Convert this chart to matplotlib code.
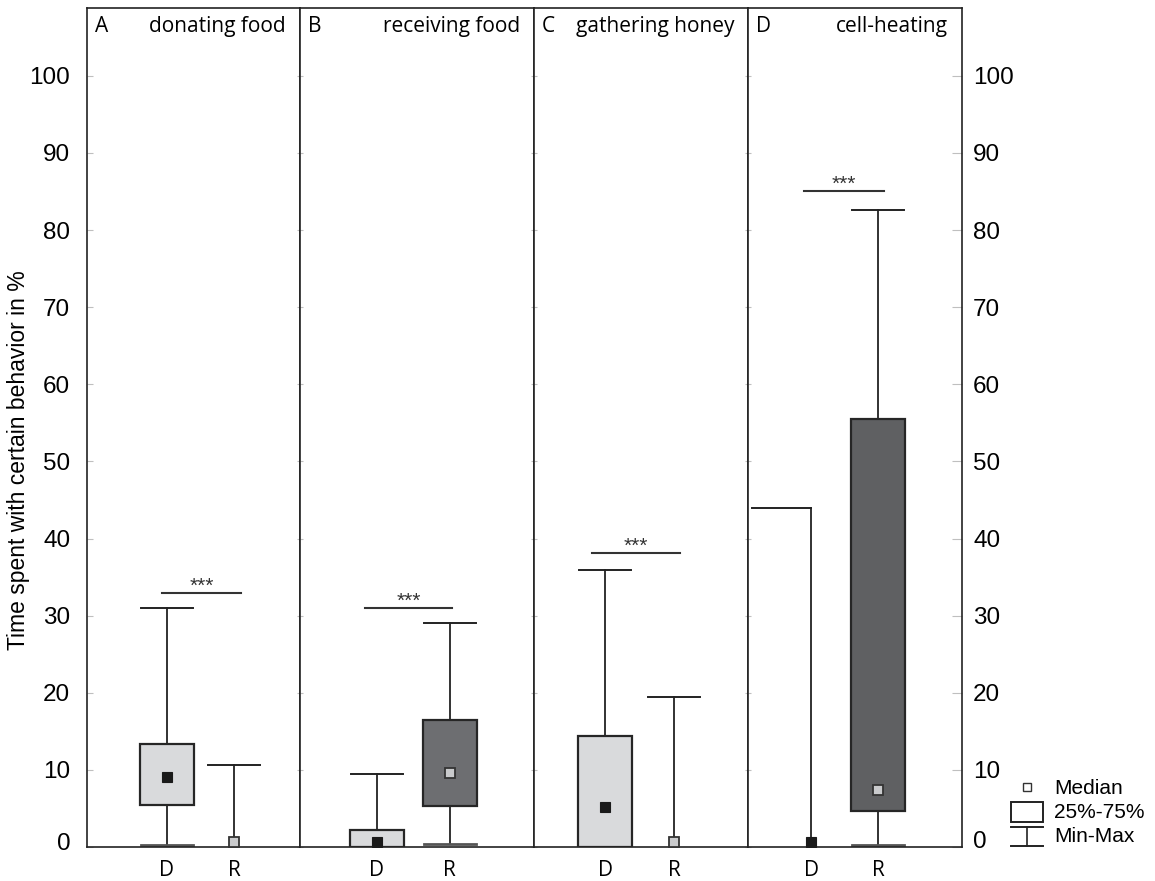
import numpy as np
import matplotlib
matplotlib.use('Agg')
import matplotlib.pyplot as plt
from matplotlib.patches import Rectangle
from matplotlib.transforms import ScaledTranslation

# data (percent of time)
panel_letters = ['A', 'B', 'C', 'D']
panel_titles = ['donating food', 'receiving food', 'gathering honey', 'cell-heating']
groups = ['D', 'R']

d_min = [0.3, 0.0, 0.0, 0.0]
d_q1 = [5.4, 0.0, 0.0, 0.0]
d_med = [9.1, 0.6, 5.2, 0.6]
d_q3 = [13.3, 2.2, 14.4, 0.0]
d_max = [31.0, 9.5, 35.9, 44.0]

r_min = [0.0, 0.35, 0.0, 0.2]
r_q1 = [0.0, 5.3, 0.0, 4.7]
r_med = [0.6, 9.6, 0.65, 7.4]
r_q3 = [0.0, 16.5, 0.0, 55.5]
r_max = [10.6, 29.0, 19.4, 82.6]

sig_level = [32.9, 31.0, 38.1, 85.1]
sig_label = ['***', '***', '***', '***']

yticks = [0, 10, 20, 30, 40, 50, 60, 70, 80, 90, 100]

# layout (panel widths in pixels, positions in the same units)
W, H = 1155, 881
panel_w = [213, 234, 214, 214]
pos_d = [79.5, 76.5, 71, 63]
pos_r = [147, 149.5, 140, 130]
sig_span = [(75, 154), (65, 152), (58, 146), (56, 136)]
box_w = 54
cap_w = 52

box_fill_d = '#d9dadc'
box_fill_r = ['#6d6e71', '#6d6e71', '#6d6e71', '#5f6062']
edge = '#262626'

fig = plt.figure(figsize=(W / 100, H / 100), dpi=100)
gs = fig.add_gridspec(1, 4, left=87 / W, right=962 / W, bottom=34 / H, top=873 / H,
                      width_ratios=panel_w, wspace=0)

num_font = 'Liberation Sans'
txt_font = 'Open Sans'


def draw_group(ax, x, vmin, q1, q3, vmax, fill):
    has_box = q3 > q1
    if has_box:
        ax.add_patch(Rectangle((x - box_w / 2, q1), box_w, q3 - q1, facecolor=fill,
                               edgecolor=edge, linewidth=1.6, zorder=3))
        ax.plot([x, x], [q3, vmax], color='#222', lw=1.3, zorder=2)
        if q1 > vmin:
            ax.plot([x, x], [vmin, q1], color='#222', lw=1.3, zorder=2)
    else:
        ax.plot([x, x], [vmin, vmax], color='#222', lw=1.3, zorder=2)
    return has_box


for i, ax in enumerate([fig.add_subplot(gs[0, k]) for k in range(4)]):
    w = panel_w[i]
    ax.set_xlim(0, w)
    ax.set_ylim(0, 108.8)
    for s in ax.spines.values():
        s.set_linewidth(1.2)
        s.set_color('#222')

    xd, xr = pos_d[i], pos_r[i]
    # donor group
    draw_group(ax, xd, d_min[i], d_q1[i], d_q3[i], d_max[i], box_fill_d)
    if i == 3:
        ax.plot([xd - 59, xd], [d_max[i], d_max[i]], color='#222', lw=1.4, zorder=2)
    else:
        ax.plot([xd - cap_w / 2, xd + cap_w / 2], [d_max[i], d_max[i]], color='#222', lw=1.4, zorder=2)
    if d_min[i] > 0:
        ax.plot([xd - cap_w / 2, xd + cap_w / 2], [d_min[i], d_min[i]], color='#555', lw=2, zorder=2)
    ax.plot(xd, d_med[i], marker='s', ms=7, mfc='#1a1a1a', mec='#1a1a1a', mew=0.8, zorder=5)

    # receiver group
    draw_group(ax, xr, r_min[i], r_q1[i], r_q3[i], r_max[i], box_fill_r[i])
    ax.plot([xr - cap_w / 2, xr + cap_w / 2], [r_max[i], r_max[i]], color='#222', lw=1.4, zorder=2)
    if r_min[i] > 0:
        ax.plot([xr - cap_w / 2, xr + cap_w / 2], [r_min[i], r_min[i]], color='#555', lw=2, zorder=2)
    ax.plot(xr, r_med[i], marker='s', ms=7, mfc='#c9cacc', mec='#333', mew=1.3, zorder=5)

    # significance bar
    x0, x1 = sig_span[i]
    ax.plot([x0, x1], [sig_level[i], sig_level[i]], color='#333', lw=1.5)
    ax.text((x0 + x1) / 2, sig_level[i] + 0.15, sig_label[i], ha='center', va='baseline',
            fontsize=15, family=num_font, color='#333')

    # panel heading
    ax.text(8, 106.4, panel_letters[i], ha='left', va='center', fontsize=15, family=txt_font)
    ax.text(w - 14, 106.4, panel_titles[i], ha='right', va='center', fontsize=15, family=txt_font)

    ax.set_xticks([xd, xr])
    ax.set_xticklabels(groups, fontsize=15, family=txt_font)
    ax.tick_params(axis='x', length=0, pad=9)

    ax.set_yticks(yticks)
    ax.tick_params(axis='y', direction='in', left=True, right=True, length=2,
                   color='0.75', width=0.8, labelleft=False, labelright=False)
    if i == 0:
        ax.tick_params(axis='y', labelleft=True, labelsize=17.5, pad=12)
        for t in ax.yaxis.get_major_ticks():
            t.tick1line.set_markersize(4)
            t.tick1line.set_color('#222')
            t.label1.set_family(num_font)
        lab0 = ax.yaxis.get_major_ticks()[0].label1
        lab0.set_transform(lab0.get_transform() + ScaledTranslation(0, 6 / 100, fig.dpi_scale_trans))
    if i == 3:
        ax.tick_params(axis='y', labelright=True, labelsize=17.5, pad=8)
        for t in ax.yaxis.get_major_ticks():
            t.tick2line.set_markersize(7)
            t.tick2line.set_color('#222')
            t.label2.set_family(num_font)
        lab0 = ax.yaxis.get_major_ticks()[0].label2
        lab0.set_transform(lab0.get_transform() + ScaledTranslation(0, 7 / 100, fig.dpi_scale_trans))

fig.text(19 / W, 1 - 460 / H, 'Time spent with certain behavior in %', rotation=90,
         ha='center', va='center', fontsize=16.5, family=num_font)

# key in the lower right corner
key = fig.add_axes([0, 0, 1, 1])
key.set_xlim(0, W)
key.set_ylim(H, 0)
key.axis('off')
key.plot(1027, 787, marker='s', ms=6, mfc='white', mec='#333', mew=1.0)
key.add_patch(Rectangle((1011, 802), 32, 20, facecolor='white', edgecolor='#222', lw=1.4))
key.plot([1011, 1043], [827, 827], color='#222', lw=1.4)
key.plot([1011, 1043], [846, 846], color='#222', lw=1.4)
key.plot([1027, 1027], [827, 846], color='#222', lw=1.2)
for label, y in zip(['Median', '25%-75%', 'Min-Max'], [788, 812, 837]):
    key.text(1054, y, label, ha='left', va='center', fontsize=15, family=num_font)

fig.savefig('out.png', dpi=100)
